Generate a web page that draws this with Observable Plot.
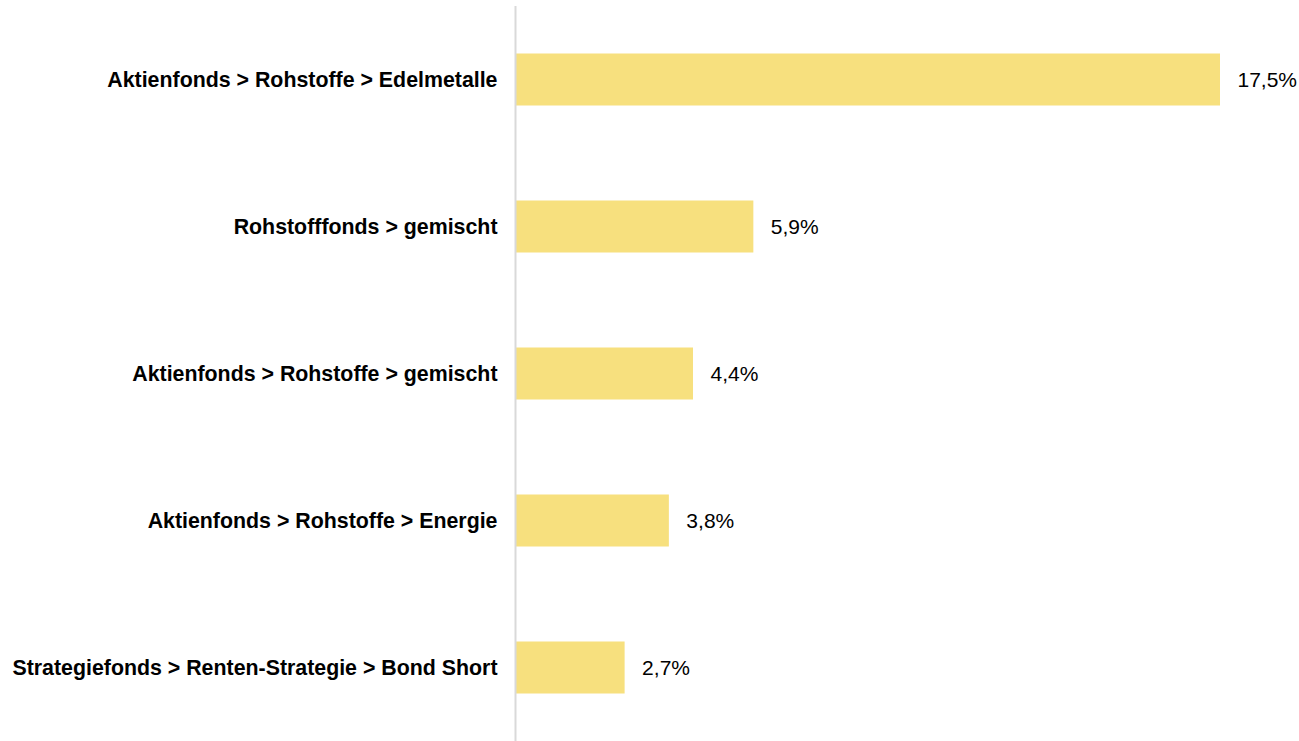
<!DOCTYPE html>
<html>
<head>
<meta charset="utf-8">
<script src="https://cdn.jsdelivr.net/npm/d3@7"></script>
<script src="https://cdn.jsdelivr.net/npm/@observablehq/plot@0.6"></script>
<style>
  html, body { margin: 0; padding: 0; background: #fff; }
  #chart svg { display: block; }
</style>
</head>
<body>
<div id="chart"></div>
<script>
const categories = [
  "Aktienfonds > Rohstoffe > Edelmetalle",
  "Rohstofffonds > gemischt",
  "Aktienfonds > Rohstoffe > gemischt",
  "Aktienfonds > Rohstoffe > Energie",
  "Strategiefonds > Renten-Strategie > Bond Short"
];
const values = [17.5, 5.9, 4.4, 3.8, 2.7];
const valueLabels = ["17,5%", "5,9%", "4,4%", "3,8%", "2,7%"];

const data = categories.map((c, i) => ({category: c, value: values[i], label: valueLabels[i]}));

const font = "'Liberation Sans', Arial, sans-serif";

const chart = Plot.plot({
  width: 1299,
  height: 741,
  marginTop: 6,
  marginBottom: 0,
  marginLeft: 516,
  marginRight: 79,
  style: {fontFamily: font, background: "#fff"},
  x: {domain: [0, 17.5], axis: null},
  y: {domain: categories, padding: 0, axis: null},
  marks: [
    Plot.barX(data, {x: "value", y: "category", fill: "#F7E07E", insetTop: 47.5, insetBottom: 47.5}),
    Plot.ruleX([0], {stroke: "#d9d9d9", strokeWidth: 2, dx: -1}),
    Plot.text(data, {x: "value", y: "category", text: "label", textAnchor: "start", dx: 17, fontSize: 21, fontFamily: font, fill: "#000"}),
    Plot.text(data, {x: 0, y: "category", text: "category", textAnchor: "end", dx: -19, fontSize: 21.35, fontWeight: "bold", fontFamily: font, fill: "#000"})
  ]
});
document.getElementById("chart").appendChild(chart);
</script>
</body>
</html>
